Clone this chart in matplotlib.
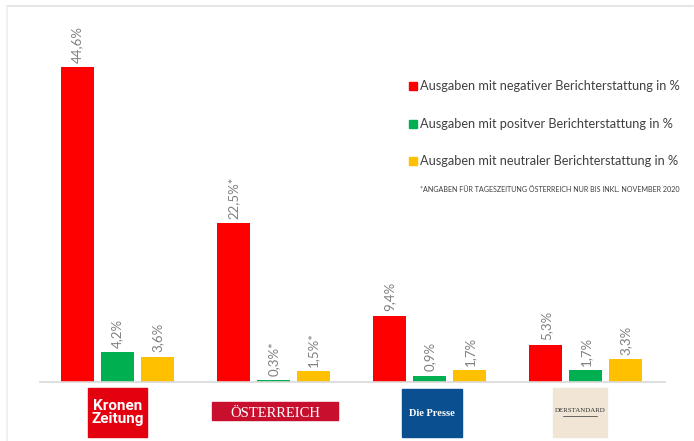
import matplotlib.pyplot as plt
from matplotlib.patches import Rectangle

# data
papers = ["Kronen Zeitung", "Österreich", "Die Presse", "Der Standard"]
negativ = [44.6, 22.5, 9.4, 5.3]
positiv = [4.2, 0.3, 0.9, 1.7]
neutral = [3.6, 1.5, 1.7, 3.3]
neg_labels = ["44,6%", "22,5%*", "9,4%", "5,3%"]
pos_labels = ["4,2%", "0,3%*", "0,9%", "1,7%"]
neu_labels = ["3,6%", "1,5%*", "1,7%", "3,3%"]
legend_texts = [
    "Ausgaben mit negativer Berichterstattung in %",
    "Ausgaben mit positver Berichterstattung in %",
    "Ausgaben mit neutraler Berichterstattung in %",
]
footnote = "*ANGABEN FÜR TAGESZEITUNG ÖSTERREICH NUR BIS INKL. NOVEMBER 2020"

RED, GREEN, YELLOW = "#FF0000", "#00B050", "#FFC000"
W, H = 694, 441

plt.rcParams["font.family"] = ["Lato", "DejaVu Sans"]

fig = plt.figure(figsize=(W / 100, H / 100), dpi=100)
fig.patch.set_facecolor("white")

# bar axes: baseline at y=382 px, 44.6 top at y=67 px
ax = fig.add_axes([40 / W, (H - 382) / H, 625 / W, 315 / H])
ax.set_xlim(-0.493, 3.506)
ax.set_ylim(0, 44.6)
ax.axis("off")
ax.axhline(0, color="#d9d9d9", lw=1.2, clip_on=False)

bw = 0.211
off = 0.256
series = [(negativ, neg_labels, RED, -off), (positiv, pos_labels, GREEN, 0), (neutral, neu_labels, YELLOW, off)]
for vals, labels, col, dx in series:
    xs = [i + dx for i in range(len(vals))]
    ax.bar(xs, vals, width=bw, color=col, edgecolor="none", clip_on=False)
    for x, v, lab in zip(xs, vals, labels):
        ax.annotate(lab, (x, v), xytext=(0, 3), textcoords="offset points",
                    rotation=90, ha="center", va="bottom", fontsize=9.5,
                    color="#7f7f7f", annotation_clip=False)

# legend
leg_y = [86, 124, 161]
for y, txt, col in zip(leg_y, legend_texts, [RED, GREEN, YELLOW]):
    fig.patches.append(Rectangle((409 / W, 1 - (y + 4) / H), 8 / W, 8 / H,
                                 transform=fig.transFigure, color=col))
    fig.text(420 / W, 1 - y / H, txt, fontsize=9.2, color="#404040", va="center")
fig.text(420 / W, 1 - 190 / H, footnote, fontsize=5.1, color="#404040", va="center")

# newspaper "logos" as styled text boxes
def box(x0, y0, x1, y1, col):
    fig.patches.append(Rectangle((x0 / W, 1 - y1 / H), (x1 - x0) / W, (y1 - y0) / H,
                                 transform=fig.transFigure, color=col))

box(88, 388, 147, 437, "#E3000F")
fig.text(117.5 / W, 1 - 412.5 / H, "Kronen\nZeitung", fontsize=11, fontweight="bold",
         color="white", ha="center", va="center", linespacing=0.95,
         family=["Roboto", "DejaVu Sans"])

box(212, 402, 338, 420, "#C8102E")
fig.text(275 / W, 1 - 417 / H, "ÖSTERREICH", fontsize=10.5, color="white",
         ha="center", va="baseline", family=["Liberation Serif", "DejaVu Serif"])

box(402, 389, 462, 437, "#0A4F8F")
fig.text(432 / W, 1 - 413 / H, "Die Presse", fontsize=7.5, fontweight="bold", color="white",
         ha="center", va="center", family=["Liberation Serif", "DejaVu Serif"])

box(553, 388, 607, 437, "#F1E6D6")
fig.text(580 / W, 1 - 411 / H, "DERSTANDARD", fontsize=5.0, color="#333333",
         ha="center", va="center", family=["Liberation Serif", "DejaVu Serif"])
fig.lines.append(plt.Line2D([563 / W, 597 / W], [1 - 415.5 / H, 1 - 415.5 / H],
                            transform=fig.transFigure, color="#333333", lw=0.5))

# faint frame at top and left
fig.lines.append(plt.Line2D([7 / W, 693 / W], [1 - 6 / H, 1 - 6 / H],
                            transform=fig.transFigure, color="#e0e0e0", lw=1.2))
fig.lines.append(plt.Line2D([7 / W, 7 / W], [0, 1 - 6 / H],
                            transform=fig.transFigure, color="#eeeeee", lw=1.2))

fig.savefig("out.png", dpi=100, facecolor="white")
